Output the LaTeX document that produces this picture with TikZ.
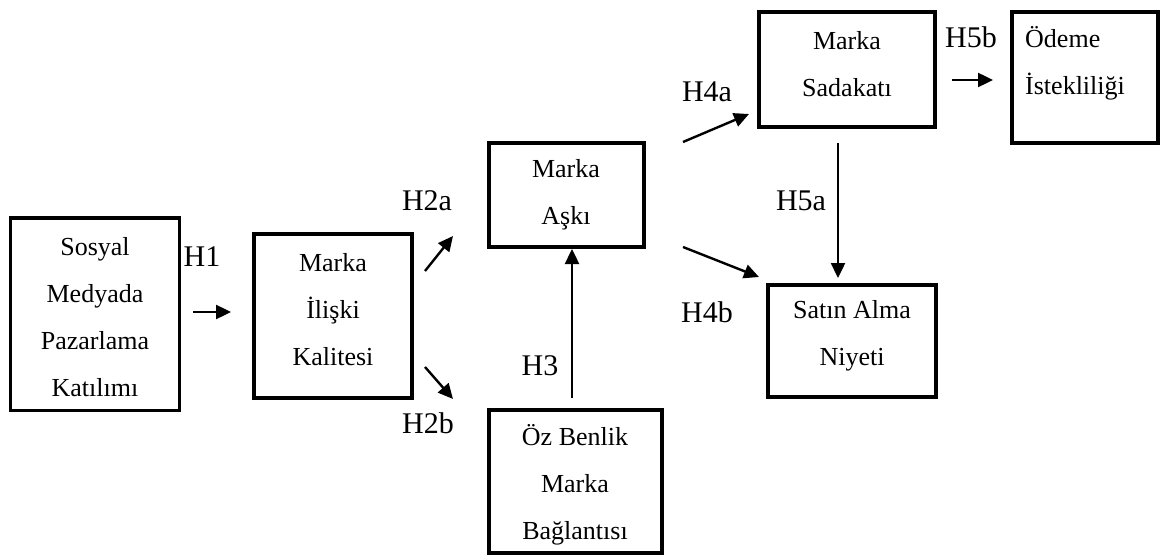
\documentclass[tikz,border=0pt]{standalone}
\usepackage{fontspec}
\setmainfont{Liberation Serif}
\usetikzlibrary{arrows.meta}

\tikzset{
  box/.style={draw, line width=3.3pt, inner sep=0pt, outer sep=0pt},
  boxtext/.style={align=center, inner sep=0pt, font=\fontsize{26}{47}\selectfont},
  hyp/.style={inner sep=0pt, font=\fontsize{30}{36}\selectfont},
  arr/.style={line width=2.4pt, -{Triangle[length=15pt,width=14pt]}}
}

% box from its corner coordinates (x1,y1) and (x2,y2), in pixels
\newcommand{\boxat}[5]{%
  \node[box, minimum width={(#4)-(#2)}, minimum height={(#5)-(#3)}]
    (#1) at ({((#2)+(#4))/2},{((#3)+(#5))/2}) {};}

\begin{document}
\begin{tikzpicture}[x=1pt, y=-1pt]
  \useasboundingbox (0,0) rectangle (1161,556);

  % construct boxes
  \boxat{b1}{10.5}{218}{179.5}{410.5}
  \boxat{b2}{254}{234}{412}{398}
  \boxat{b3}{489}{143}{644}{247}
  \boxat{b4}{489}{410}{662}{553}
  \boxat{b5}{759}{12}{935}{127}
  \boxat{b6}{1012}{12}{1158}{143}
  \boxat{b7}{768}{285}{936}{397}

  % construct names
  \node[boxtext] (t1) at (95,317) {Sosyal\\Medyada\\Pazarlama\\Katılımı};
  \node[boxtext] (t2) at (333,310) {Marka\\İlişki\\Kalitesi};
  \node[boxtext] (t3) at (566,195) {Marka\\Aşkı};
  \node[boxtext] (t4) at (575,485) {Öz Benlik\\Marka\\Bağlantısı};
  \node[boxtext] (t5) at (847,64) {Marka\\Sadakatı};
  \node[boxtext, align=left, anchor=west] (t6) at (1025,63) {Ödeme\\İstekliliği};
  \node[boxtext] (t7) at (852,336) {Satın Alma\\Niyeti};

  % hypothesis labels
  \node[hyp] (H1)  at (202,257) {H1};
  \node[hyp] (H2a) at (427,201) {H2a};
  \node[hyp] (H2b) at (428,423) {H2b};
  \node[hyp] (H3)  at (540,366) {H3};
  \node[hyp] (H4a) at (707,92)  {H4a};
  \node[hyp] (H4b) at (707,312) {H4b};
  \node[hyp] (H5a) at (801,201) {H5a};
  \node[hyp] (H5b) at (971,37)  {H5b};

  % arrow end points
  \coordinate (a1s) at (193,312);  \coordinate (a1e) at (231,312);
  \coordinate (a2s) at (425,271);  \coordinate (a2e) at (453,236);
  \coordinate (a3s) at (425,367);  \coordinate (a3e) at (453,399);
  \coordinate (a4s) at (572,398);  \coordinate (a4e) at (572,249);
  \coordinate (a5s) at (683,142);  \coordinate (a5e) at (749,114);
  \coordinate (a6s) at (683,247);  \coordinate (a6e) at (759,277);
  \coordinate (a7s) at (838,143);  \coordinate (a7e) at (838,278);
  \coordinate (a8s) at (952,80);   \coordinate (a8e) at (993,80);

  \draw[arr] (a1s) -- (a1e);
  \draw[arr] (a2s) -- (a2e);
  \draw[arr] (a3s) -- (a3e);
  \draw[arr] (a4s) -- (a4e);
  \draw[arr] (a5s) -- (a5e);
  \draw[arr] (a6s) -- (a6e);
  \draw[arr] (a7s) -- (a7e);
  \draw[arr] (a8s) -- (a8e);
\end{tikzpicture}
\end{document}
